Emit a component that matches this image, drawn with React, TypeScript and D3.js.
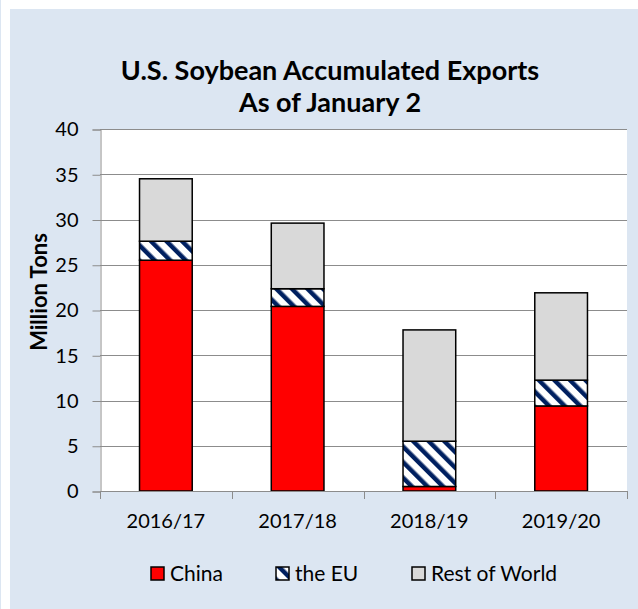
import { useEffect, useRef } from 'react';
import * as d3 from 'd3';

const categories = ['2016/17', '2017/18', '2018/19', '2019/20'];
const seriesNames = ['China', 'the EU', 'Rest of World'];
const china = [25.5, 20.4, 0.5, 9.4];
const eu = [2.1, 1.95, 5.0, 2.85];
const restOfWorld = [6.9, 7.25, 12.3, 9.65];
const yTicks = [0, 5, 10, 15, 20, 25, 30, 35, 40];

const FONT = 'Lato, "Open Sans", sans-serif';

export default function App() {
  const svgRef = useRef<SVGSVGElement>(null);

  useEffect(() => {
    if (!svgRef.current) return;
    const svg = d3.select(svgRef.current);
    svg.selectAll('*').remove();

    const width = 638;
    const height = 609;
    const left = 100;
    const right = 627;
    const top = 129;
    const bottom = 491;

    // diagonal stripe pattern for the EU (downward, top-left to bottom-right)
    const defs = svg.append('defs');
    const pat = defs.append('pattern')
      .attr('id', 'euStripe')
      .attr('patternUnits', 'userSpaceOnUse')
      .attr('width', 11)
      .attr('height', 11)
      .attr('patternTransform', 'rotate(-45)');
    pat.append('rect').attr('width', 11).attr('height', 11).attr('fill', '#fff');
    pat.append('rect').attr('width', 4.5).attr('height', 11).attr('fill', '#002060');

    // chart area
    svg.append('rect').attr('x', 0).attr('y', 0).attr('width', width).attr('height', height).attr('fill', '#fff');
    svg.append('line').attr('x1', 0.5).attr('x2', 0.5).attr('y1', 0).attr('y2', height).attr('stroke', '#dce6f2');
    svg.append('rect')
      .attr('x', 10).attr('y', 9).attr('width', width - 10).attr('height', height - 9)
      .attr('fill', '#dce6f2');

    // title
    const title = svg.append('text')
      .attr('text-anchor', 'middle')
      .style('font-family', FONT)
      .style('font-weight', 'bold')
      .style('font-size', '27px')
      .attr('fill', '#000');
    title.append('tspan').attr('x', 330).attr('y', 80).text('U.S. Soybean Accumulated Exports');
    title.append('tspan').attr('x', 330).attr('y', 112).text('As of January 2');

    // plot area
    svg.append('rect')
      .attr('x', left).attr('y', top).attr('width', right - left).attr('height', bottom - top)
      .attr('fill', '#fff');

    const x = d3.scaleBand<string>()
      .domain(categories)
      .range([left, right])
      .paddingInner(0.6)
      .paddingOuter(0.3);

    const y = d3.scaleLinear().domain([0, 40]).range([bottom, top]);

    // gridlines
    svg.append('g')
      .selectAll('line')
      .data(yTicks.filter(t => t > 0))
      .join('line')
      .attr('x1', left).attr('x2', right)
      .attr('y1', d => Math.round(y(d)) + 0.5)
      .attr('y2', d => Math.round(y(d)) + 0.5)
      .attr('stroke', '#8c8c8c')
      .attr('stroke-width', 1);

    // y axis
    const yAxis = svg.append('g')
      .attr('transform', `translate(${left + 0.5},0.5)`)
      .call(d3.axisLeft(y).tickValues(yTicks).tickSize(8).tickPadding(14).tickFormat(d3.format('d')));
    yAxis.select('.domain').attr('stroke', '#8c8c8c');
    yAxis.selectAll('.tick line').attr('stroke', '#8c8c8c');
    yAxis.selectAll('.tick text')
      .style('font-family', FONT)
      .style('font-size', '20px')
      .attr('fill', '#000');

    // stacked bars
    const rows = categories.map((c, i) => ({ cat: c, China: china[i], 'the EU': eu[i], 'Rest of World': restOfWorld[i] }));
    const stacked = d3.stack<any>().keys(seriesNames)(rows);
    const fills: Record<string, string> = { China: '#ff0000', 'the EU': 'url(#euStripe)', 'Rest of World': '#d9d9d9' };

    svg.append('g')
      .selectAll('g')
      .data(stacked)
      .join('g')
      .attr('fill', d => fills[d.key])
      .selectAll('rect')
      .data(d => d)
      .join('rect')
      .attr('x', d => x(d.data.cat)!)
      .attr('width', x.bandwidth())
      .attr('y', d => y(d[1]))
      .attr('height', d => y(d[0]) - y(d[1]))
      .attr('stroke', '#000')
      .attr('stroke-width', 1.5);

    // x axis
    const step = x.step();
    const boundaries = d3.range(categories.length + 1).map(i => left + i * step);
    svg.append('line')
      .attr('x1', left).attr('x2', right)
      .attr('y1', bottom + 0.5).attr('y2', bottom + 0.5)
      .attr('stroke', '#8c8c8c');
    svg.append('g')
      .selectAll('line')
      .data(boundaries)
      .join('line')
      .attr('x1', d => Math.round(d) + 0.5).attr('x2', d => Math.round(d) + 0.5)
      .attr('y1', bottom).attr('y2', bottom + 8)
      .attr('stroke', '#8c8c8c');
    svg.append('g')
      .selectAll('text')
      .data(categories)
      .join('text')
      .attr('x', d => x(d)! + x.bandwidth() / 2)
      .attr('y', 528)
      .attr('text-anchor', 'middle')
      .style('font-family', FONT)
      .style('font-size', '20px')
      .attr('fill', '#000')
      .text(d => d);

    // y axis title
    svg.append('text')
      .attr('transform', 'translate(47,292) rotate(-90)')
      .attr('text-anchor', 'middle')
      .style('font-family', FONT)
      .style('font-weight', 'bold')
      .style('font-size', '22px')
      .attr('fill', '#000')
      .text('Million Tons');

    // legend
    const legendX = [151, 276, 412];
    const legend = svg.append('g')
      .selectAll('g')
      .data(seriesNames)
      .join('g')
      .attr('transform', (d, i) => `translate(${legendX[i]},567)`);
    legend.append('rect')
      .attr('width', 13).attr('height', 13)
      .attr('fill', d => fills[d])
      .attr('stroke', '#000')
      .attr('stroke-width', 1.5);
    legend.append('text')
      .attr('x', 19).attr('y', 14)
      .style('font-family', FONT)
      .style('font-size', '21px')
      .attr('fill', '#000')
      .text(d => d);
  }, []);

  return (
    <svg
      ref={svgRef}
      width={638}
      height={609}
      style={{ position: 'absolute', left: 0, top: 0 }}
    />
  );
}
